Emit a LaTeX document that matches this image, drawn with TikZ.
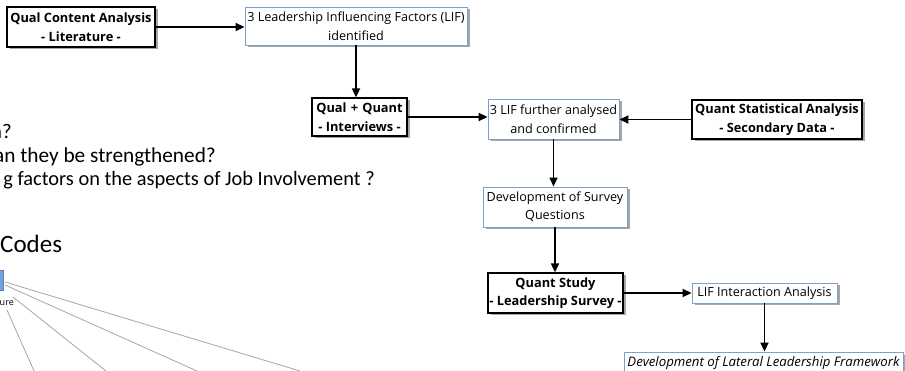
\documentclass[tikz,border=0pt]{standalone}
\usepackage{fontspec}
\setmainfont{Open Sans}
\newfontfamily\calib{Carlito}
\usetikzlibrary{arrows.meta,shadows}
\definecolor{boxblue}{RGB}{125,160,205}
\definecolor{linegray}{RGB}{165,165,165}
\definecolor{sqblue}{RGB}{110,165,220}
\begin{document}
\begin{tikzpicture}[x=1pt,y=-1pt,
  base/.style={inner sep=0pt, align=center, fill=white,
    drop shadow={shadow xshift=2.5pt, shadow yshift=-2.5pt, fill=black!35, opacity=1}},
  blackbox/.style={base, draw=black, line width=1.2pt, font=\fontsize{12.8}{18.5}\selectfont\bfseries},
  bluebox/.style={base, draw=boxblue, line width=0.9pt, font=\fontsize{12.6}{18.5}\selectfont},
  arr/.style={-{Triangle[length=9pt,width=8pt]}, line width=1.7pt},
  slidetext/.style={inner sep=0pt, anchor=base east, font=\calib\fontsize{20.8}{24}\selectfont},
  thinline/.style={draw=linegray, line width=0.8pt}
]
\useasboundingbox (0,0) rectangle (905,371);
\clip (0,0) rectangle (905,371);

% background slide text (cut off at the left)
\node[slidetext] (t1) at (12,139) {n?};
\node[slidetext, font=\calib\fontsize{21.3}{24}\selectfont] (t2) at (216,163) {an they be strengthened?};
\node[slidetext, font=\calib\fontsize{20.4}{24}\selectfont] (t3) at (375,186) {g factors on the aspects of Job Involvement ?};
\node[inner sep=0pt, anchor=base west, font=\calib\fontsize{25}{30}\selectfont] (codes) at (0,253) {Codes};

% partial code tree
\node[draw=boxblue!80!black, fill=sqblue, minimum width=10pt, minimum height=20pt, inner sep=0pt] (sq) at (-2,280) {};
\node[inner sep=0pt, anchor=base east, font=\fontsize{9}{11}\selectfont] (ure) at (14,306) {ure};
\coordinate (ea) at (300,371);
\coordinate (eb) at (197,371);
\coordinate (ec) at (106,371);
\coordinate (ed) at (34,371);
\coordinate (sa) at (5,282);
\coordinate (sb) at (5,285);
\coordinate (sc) at (13,297);
\coordinate (sd) at (7,310);
\draw[thinline] (sa) -- (ea);
\draw[thinline] (sb) -- (eb);
\draw[thinline] (sc) -- (ec);
\draw[thinline] (sd) -- (ed);

% flow chart
\node[blackbox, minimum width=148pt, minimum height=40pt] (b1) at (81,27) {Qual Content Analysis\\- Literature -};
\node[bluebox, minimum width=222pt, minimum height=38pt] (b2) at (356,26) {3 Leadership Influencing Factors (LIF)\\identified};
\node[blackbox, minimum width=95pt, minimum height=38pt] (b3) at (359.5,117) {Qual\,\,+\,\,Quant\\- Interviews -};
\node[bluebox, minimum width=131pt, minimum height=40pt] (b4) at (553.5,119) {3 LIF further analysed\\and confirmed};
\node[blackbox, minimum width=170pt, minimum height=39pt] (b5) at (777,119.5) {Quant Statistical Analysis\\- Secondary Data -};
\node[bluebox, minimum width=144pt, minimum height=40pt] (b6) at (555,207) {Development of Survey\\Questions};
\node[blackbox, minimum width=135pt, minimum height=40pt] (b7) at (555.5,293) {Quant Study\\- Leadership Survey -};
\node[bluebox, minimum width=145pt, minimum height=20pt] (b8) at (764.5,293) {LIF Interaction Analysis};
\node[bluebox, minimum width=279pt, minimum height=22pt, font=\fontsize{13.2}{18}\selectfont\itshape] (b9) at (763.5,363) {Development of Lateral Leadership Framework};

\draw[arr] (b1.east) -- (b1.east -| b2.west);
\draw[arr] (b2.south) -- (b2.south |- b3.north);
\draw[arr] (b3.east) -- (b3.east -| b4.west);
\draw[arr] (b5.west) -- (b5.west -| b4.east);
\draw[arr] (b4.south) -- (b4.south |- b6.north);
\draw[arr] (b6.south) -- (b6.south |- b7.north);
\draw[arr] (b7.east) -- (b7.east -| b8.west);
\draw[arr] (b8.south) -- (b8.south |- b9.north);
\end{tikzpicture}
\end{document}
